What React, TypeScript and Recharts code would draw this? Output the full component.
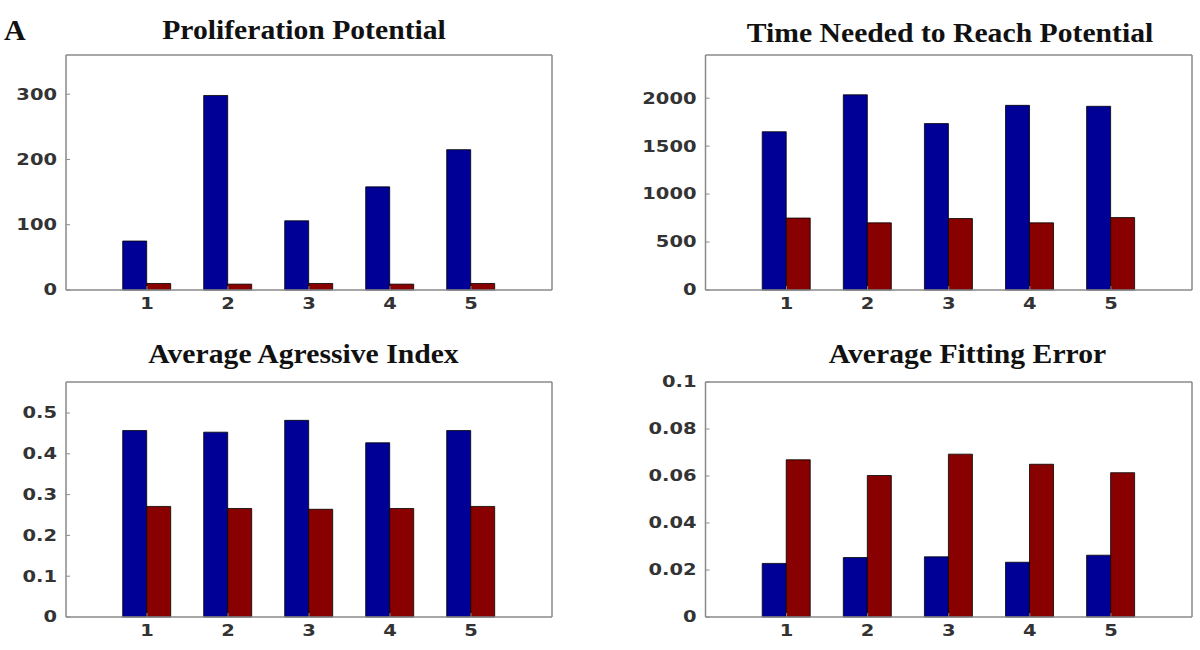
import React from 'react';
import { BarChart, Bar, XAxis, YAxis } from 'recharts';

// x categories shared by all four panels
const categories = ['1', '2', '3', '4', '5'];

// Proliferation Potential
const prolifBlue = [75, 298, 106, 158, 215];
const prolifRed = [10, 9, 10, 9, 10];
const prolifTicks = [0, 100, 200, 300];

// Time Needed to Reach Potential
const timeBlue = [1650, 2035, 1735, 1925, 1915];
const timeRed = [750, 700, 745, 700, 755];
const timeTicks = [0, 500, 1000, 1500, 2000];

// Average Agressive Index
const aggrBlue = [0.457, 0.453, 0.482, 0.427, 0.457];
const aggrRed = [0.271, 0.266, 0.264, 0.266, 0.271];
const aggrTicks = [0, 0.1, 0.2, 0.3, 0.4, 0.5];

// Average Fitting Error
const errBlue = [0.0228, 0.0253, 0.0256, 0.0233, 0.0263];
const errRed = [0.0669, 0.0602, 0.0693, 0.065, 0.0614];
const errTicks = [0, 0.02, 0.04, 0.06, 0.08, 0.1];

const BLUE = '#000096';
const RED = '#880000';
const AXIS = '#8a8a8a';
const TICK_FONT = '"DejaVu Sans", Arial, sans-serif';
const TITLE_FONT = '"Liberation Serif", "Times New Roman", serif';

function YTick({ x, y, payload }: any) {
  return (
    <g transform={`translate(${x},${y})`}>
      <text transform="scale(1.3,1)" textAnchor="end" dy="0.36em" fontFamily={TICK_FONT} fontWeight="bold" fontSize={15} fill="#333">
        {payload.value}
      </text>
    </g>
  );
}

function XTick({ x, y, payload }: any) {
  return (
    <g transform={`translate(${x},${y})`}>
      <text transform="scale(1.3,1)" textAnchor="middle" dy="0.72em" fontFamily={TICK_FONT} fontWeight="bold" fontSize={15} fill="#333">
        {payload.value}
      </text>
    </g>
  );
}

interface PanelProps {
  left: number;
  top: number;
  blue: number[];
  red: number[];
  ticks: number[];
  max: number;
  margin: { top: number; right: number; bottom: number; left: number };
  yWidth: number;
}

function Panel({ left, top, blue, red, ticks, max, margin, yWidth }: PanelProps) {
  const data = categories.map((c, i) => ({ name: c, blue: blue[i], red: red[i] }));
  const axisProps = { stroke: AXIS, strokeWidth: 1.5 };
  return (
    <div style={{ position: 'absolute', left, top }}>
      <BarChart width={600} height={325} data={data} margin={margin} barCategoryGap="20%" barGap={0}>
        <XAxis
          dataKey="name"
          interval={0}
          height={30}
          padding={{ left: 40.5, right: 40.5 }}
          axisLine={axisProps}
          tickLine={{ stroke: AXIS }}
          tickSize={-4}
          tickMargin={12}
          tick={<XTick />}
        />
        <XAxis
          xAxisId="top"
          orientation="top"
          dataKey="name"
          interval={0}
          height={1}
          padding={{ left: 40.5, right: 40.5 }}
          axisLine={axisProps}
          tickLine={{ stroke: '#555' }}
          tickSize={-3}
          tick={false}
        />
        <YAxis
          type="number"
          domain={[0, max]}
          ticks={ticks}
          width={yWidth}
          axisLine={axisProps}
          tickLine={{ stroke: AXIS }}
          tickSize={-4}
          tickMargin={13}
          tick={<YTick />}
        />
        <YAxis
          yAxisId="r"
          orientation="right"
          type="number"
          domain={[0, max]}
          ticks={ticks}
          width={1}
          axisLine={axisProps}
          tickLine={{ stroke: AXIS }}
          tickSize={-4}
          tick={false}
        />
        <Bar dataKey="blue" fill={BLUE} stroke="#000" strokeWidth={0.8} isAnimationActive={false} />
        <Bar dataKey="red" fill={RED} stroke="#000" strokeWidth={0.8} isAnimationActive={false} />
      </BarChart>
    </div>
  );
}

function Title({ cx, y, text }: { cx: number; y: number; text: string }) {
  return (
    <text
      transform={`translate(${cx},${y}) scale(1.12,1)`}
      textAnchor="middle"
      fontFamily={TITLE_FONT}
      fontWeight="bold"
      fontSize={26.5}
      fill="#111"
    >
      {text}
    </text>
  );
}

export default function App() {
  const leftMargin = { top: 54, right: 47, bottom: 5, left: 0 };
  const rightMargin = { top: 54, right: 7, bottom: 5, left: 40 };
  const leftMarginLow = { top: 56, right: 47, bottom: 3, left: 0 };
  const rightMarginLow = { top: 56, right: 7, bottom: 3, left: 40 };
  return (
    <div style={{ position: 'absolute', left: 0, top: 0, width: 1200, height: 650, background: '#fff', overflow: 'hidden' }}>
      <Panel left={0} top={0} blue={prolifBlue} red={prolifRed} ticks={prolifTicks} max={360} margin={leftMargin} yWidth={66} />
      <Panel left={600} top={0} blue={timeBlue} red={timeRed} ticks={timeTicks} max={2450} margin={rightMargin} yWidth={65.5} />
      <Panel left={0} top={325} blue={aggrBlue} red={aggrRed} ticks={aggrTicks} max={0.576} margin={leftMarginLow} yWidth={66} />
      <Panel left={600} top={325} blue={errBlue} red={errRed} ticks={errTicks} max={0.1} margin={rightMarginLow} yWidth={65.5} />
      <svg width={1200} height={650} style={{ position: 'absolute', left: 0, top: 0, pointerEvents: 'none' }}>
        <text x={4} y={40} fontFamily={TITLE_FONT} fontWeight="bold" fontSize={30} fill="#111">A</text>
        <Title cx={304} y={38.5} text="Proliferation Potential" />
        <Title cx={950} y={41.5} text="Time Needed to Reach Potential" />
        <Title cx={303.5} y={362.5} text="Average Agressive Index" />
        <Title cx={967.5} y={362.5} text="Average Fitting Error" />
      </svg>
    </div>
  );
}
